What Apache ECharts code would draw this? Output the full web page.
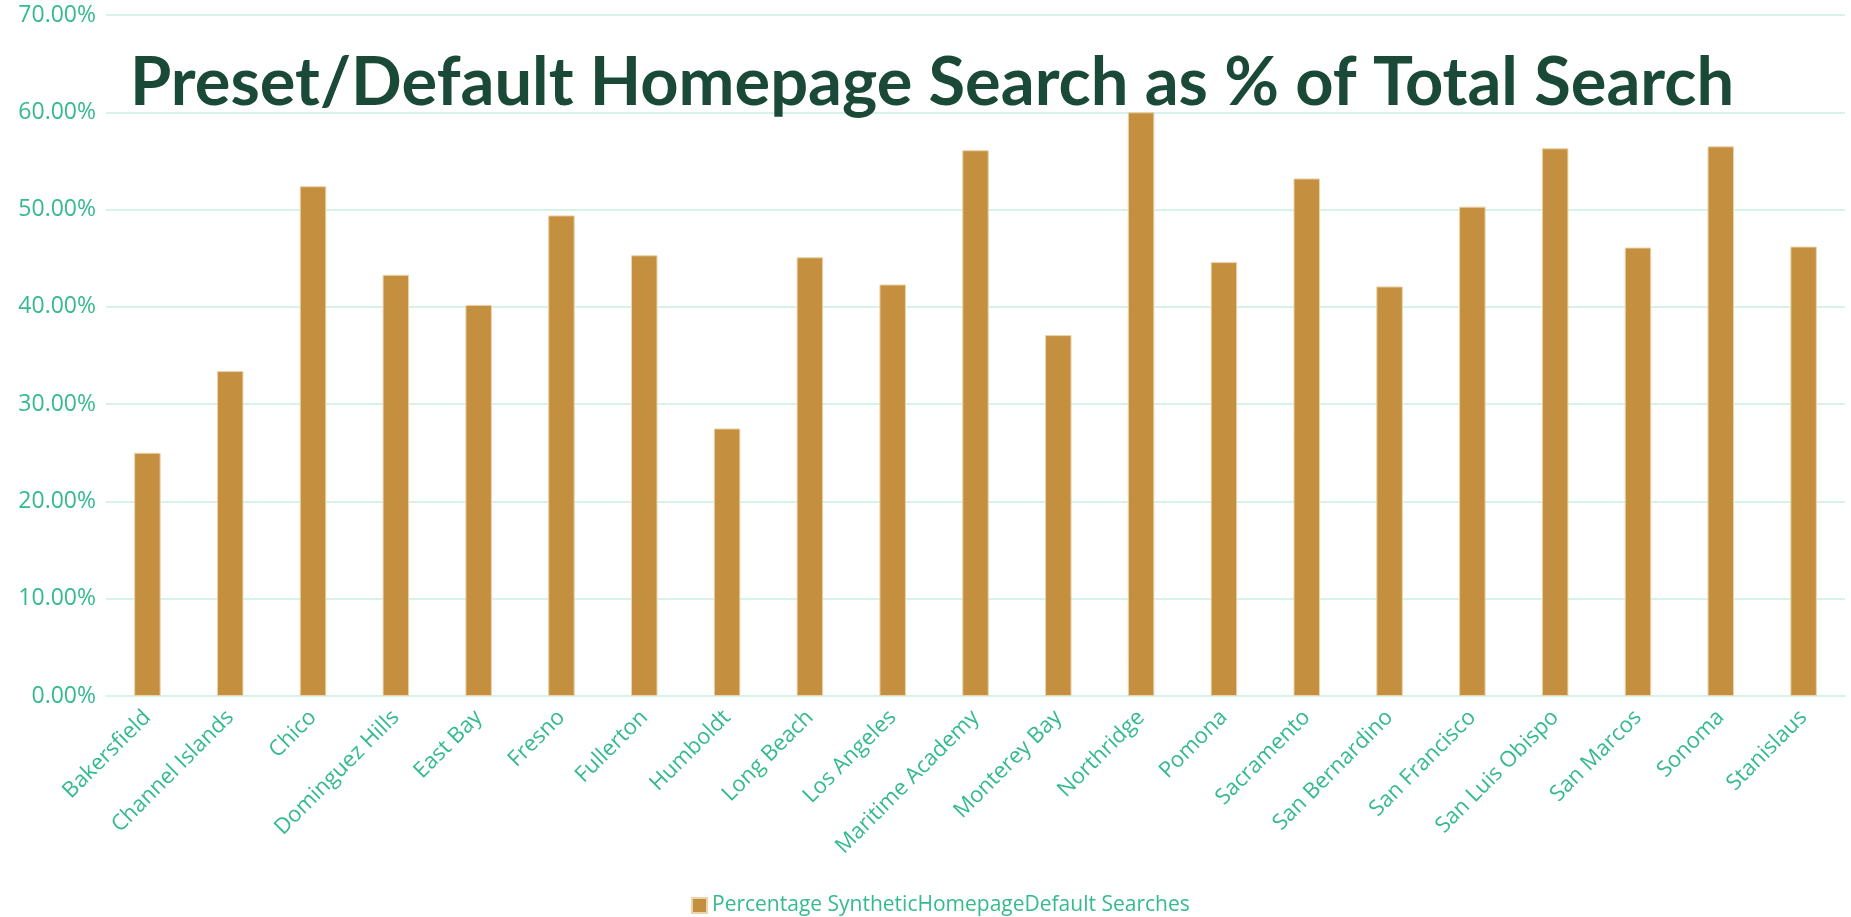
<!DOCTYPE html>
<html>
<head>
<meta charset="utf-8">
<script src="https://cdn.jsdelivr.net/npm/echarts@6/dist/echarts.min.js"></script>
<style>
  html, body { margin: 0; padding: 0; background: #fff; }
  #chart { width: 1851px; height: 917px; }
</style>
</head>
<body>
<div id="chart"></div>
<script>
const campuses = [
  'Bakersfield', 'Channel Islands', 'Chico', 'Dominguez Hills', 'East Bay',
  'Fresno', 'Fullerton', 'Humboldt', 'Long Beach', 'Los Angeles',
  'Maritime Academy', 'Monterey Bay', 'Northridge', 'Pomona', 'Sacramento',
  'San Bernardino', 'San Francisco', 'San Luis Obispo', 'San Marcos', 'Sonoma',
  'Stanislaus'
]

// percent of total searches that came from the preset homepage search
const defaultSharePct = [
  25.0, 33.4, 52.4, 43.3, 40.2,
  49.4, 45.3, 27.5, 45.1, 42.3,
  56.1, 37.1, 60.0, 44.6, 53.2,
  42.1, 50.3, 56.3, 46.1, 56.5,
  46.2
]

const seriesName = 'Percentage SyntheticHomepageDefault Searches'
const chartTitle = 'Preset/Default Homepage Search as % of Total Search'

const theme = {
  label: '#35BB8B',
  grid: '#D6F2E9',
  bar: '#C4903F',
  title: '#1A4A37'
}

const chart = echarts.init(document.getElementById('chart'))

chart.setOption({
  animation: false,
  title: {
    text: chartTitle,
    left: 125,
    top: 45,
    textStyle: {
      fontFamily: 'Lato',
      fontWeight: 'bold',
      fontSize: 66.8,
      color: theme.title
    }
  },
  legend: {
    top: 890,
    left: 686,
    icon: 'rect',
    itemWidth: 15,
    itemHeight: 15,
    itemGap: 10,
    textStyle: { color: theme.label, fontSize: 21, fontFamily: 'Open Sans' },
    data: [seriesName]
  },
  grid: { left: 106, right: 6, top: 15, bottom: 221, containLabel: false },
  xAxis: {
    type: 'category',
    data: campuses,
    axisLine: { lineStyle: { color: theme.grid, width: 2 } },
    axisTick: { show: false },
    axisLabel: {
      interval: 0,
      rotate: 45,
      margin: 18,
      color: theme.label,
      fontSize: 22,
      fontFamily: 'Open Sans'
    }
  },
  yAxis: {
    type: 'value',
    min: 0,
    max: 70,
    interval: 10,
    axisLine: { show: false },
    axisTick: { show: false },
    splitLine: { lineStyle: { color: theme.grid, width: 2 } },
    axisLabel: {
      margin: 10,
      color: theme.label,
      fontSize: 23,
      fontFamily: 'Open Sans',
      formatter: v => v.toFixed(2) + '%'
    }
  },
  series: [{
    name: seriesName,
    type: 'bar',
    data: defaultSharePct,
    barWidth: '32%',
    itemStyle: {
      color: theme.bar,
      borderColor: '#EBD3AA',
      borderWidth: 1
    }
  }]
})
</script>
</body>
</html>
